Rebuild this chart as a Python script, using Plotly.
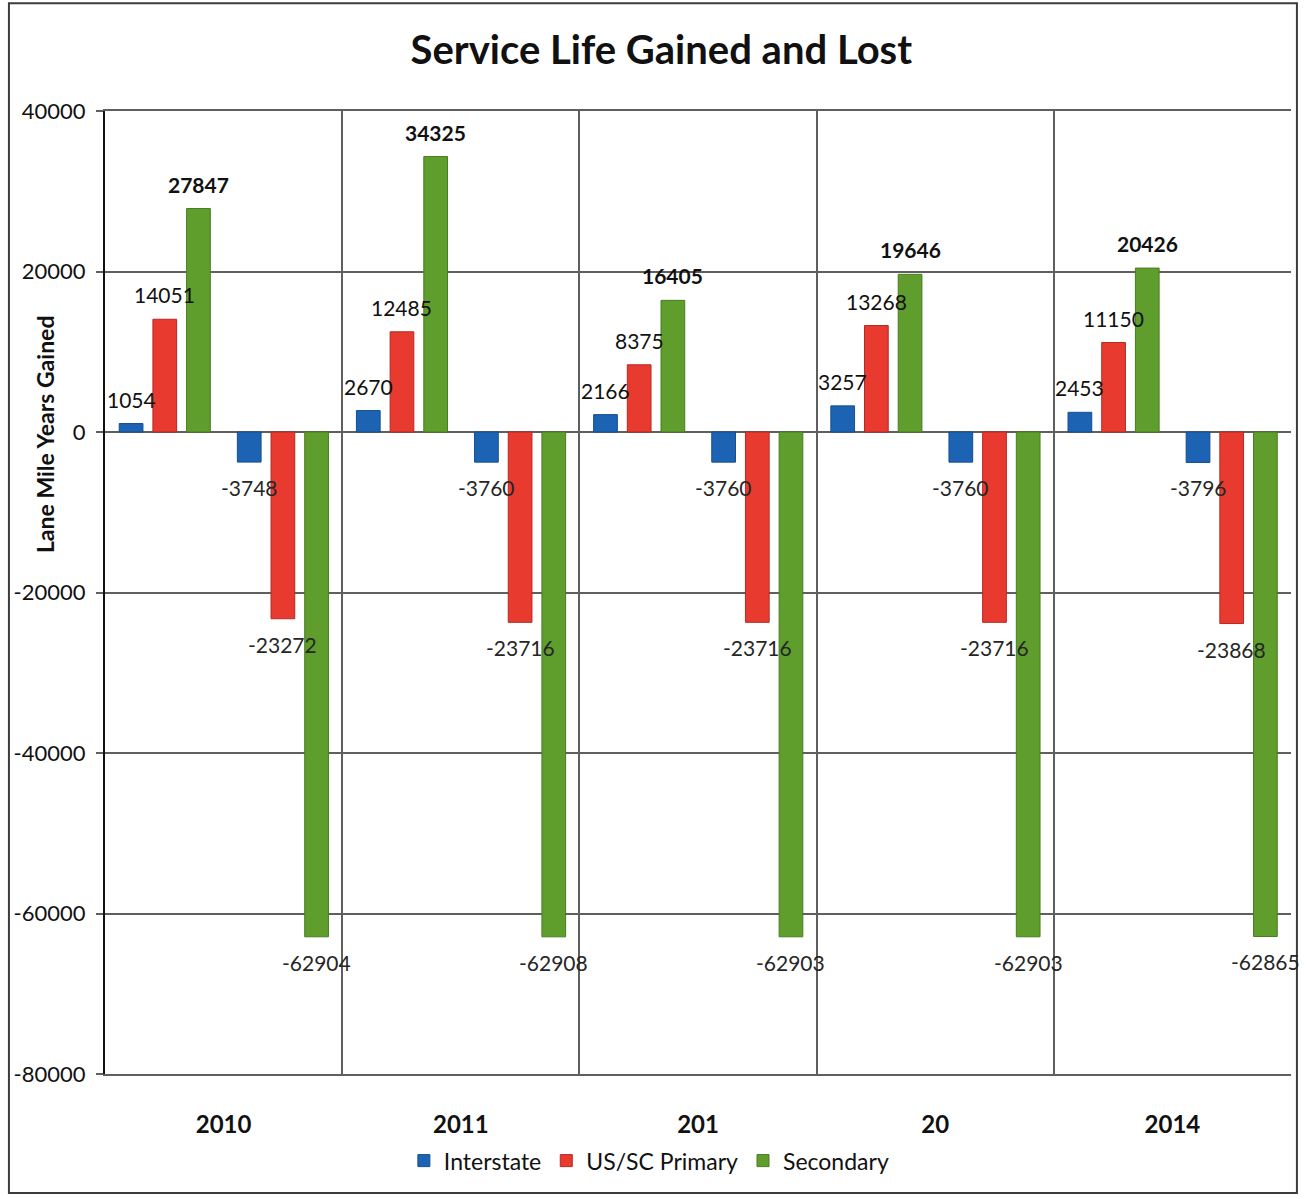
import plotly.graph_objects as go

# Category labels along the x axis
years = ["2010", "2011", "201", "20", "2014"]

# Lane mile years gained (positive) per road system
interstate_gained = [1054, 2670, 2166, 3257, 2453]
primary_gained = [14051, 12485, 8375, 13268, 11150]
secondary_gained = [27847, 34325, 16405, 19646, 20426]

# Lane mile years lost (negative) per road system
interstate_lost = [-3748, -3760, -3760, -3760, -3796]
primary_lost = [-23272, -23716, -23716, -23716, -23868]
secondary_lost = [-62904, -62908, -62903, -62903, -62865]

# y-axis ticks
y_ticks = [40000, 20000, 0, -20000, -40000, -60000, -80000]
y_tick_text = [str(v) for v in y_ticks]

FONT = "Lato"
BLUE, BLUE_EDGE = "#1c63b4", "#154e8f"
RED, RED_EDGE = "#e83a2f", "#b52a22"
GREEN, GREEN_EDGE = "#5f9d2c", "#497c21"

BAR_W = 0.10
series = [
    # name, values, fill, edge, offset inside category, legend, label bold
    ("Interstate", interstate_gained, BLUE, BLUE_EDGE, -0.440, True, False),
    ("US/SC Primary", primary_gained, RED, RED_EDGE, -0.298, True, False),
    ("Secondary", secondary_gained, GREEN, GREEN_EDGE, -0.156, True, True),
    ("Interstate", interstate_lost, BLUE, BLUE_EDGE, 0.058, False, False),
    ("US/SC Primary", primary_lost, RED, RED_EDGE, 0.200, False, False),
    ("Secondary", secondary_lost, GREEN, GREEN_EDGE, 0.342, False, False),
]

fig = go.Figure()
annotations = []
for name, vals, fill, edge, off, show, bold in series:
    fig.add_trace(go.Bar(
        x=years, y=vals, name=name, showlegend=show,
        legendgroup=name,
        offset=off, width=BAR_W,
        marker=dict(color=fill, line=dict(color=edge, width=1)),
    ))
    # value labels sit a little way beyond the end of each bar
    for i, v in enumerate(vals):
        pos = v >= 0
        annotations.append(dict(
            x=i + off + BAR_W / 2, y=v, xref="x", yref="y",
            text=f"<b>{v}</b>" if bold else str(v),
            showarrow=False,
            yanchor="bottom" if pos else "top",
            yshift=10 if pos else -11,
            font=dict(family=FONT, size=21,
                      color="#111111" if pos else "#262626"),
        ))

# y-axis title placed beside the upper part of the axis
annotations.append(dict(
    text="<b>Lane Mile Years Gained</b>", textangle=-90,
    xref="paper", yref="paper", x=-0.051, y=0.664,
    xanchor="center", yanchor="middle", showarrow=False,
    font=dict(family=FONT, size=23, color="#111111"),
))

grid = "#5f5f5f"
fig.update_layout(
    width=1307, height=1199,
    margin=dict(l=105, r=16, t=111, b=125),
    paper_bgcolor="white", plot_bgcolor="white",
    barmode="overlay",
    title=dict(
        text="<b>Service Life Gained and Lost</b>",
        x=0.506, xref="container", xanchor="center",
        y=0.958, yref="container", yanchor="middle",
        font=dict(family=FONT, size=40, color="#111111"),
    ),
    font=dict(family=FONT, color="#111111"),
    xaxis=dict(
        type="category", tickson="boundaries", range=[-0.5, 4.5],
        showgrid=True, gridcolor=grid, gridwidth=1.6,
        ticks="", ticklabelstandoff=28,
        tickfont=dict(family=FONT, size=24, color="#111111", weight="bold"),
        showline=True, linecolor=grid, linewidth=1.6, mirror=True,
    ),
    yaxis=dict(
        range=[-80000, 40000],
        tickmode="array", tickvals=y_ticks, ticktext=y_tick_text,
        showgrid=True, gridcolor=grid, gridwidth=1.6,
        zeroline=True, zerolinecolor=grid, zerolinewidth=1.6,
        showline=True, linecolor="#111111", linewidth=2,
        ticks="outside", ticklen=7, tickcolor=grid, tickwidth=1.5,
        ticklabelstandoff=6,
        tickfont=dict(family=FONT, size=22, color="#111111"),
    ),
    legend=dict(
        orientation="h", x=0.459, xanchor="center",
        y=-0.09, yanchor="middle",
        font=dict(family=FONT, size=23, color="#111111"),
        itemwidth=30, traceorder="normal",
    ),
    annotations=annotations,
    shapes=[dict(
        type="rect", xref="paper", yref="paper",
        x0=-0.081, x1=1.005, y0=-0.1236, y1=1.112,
        line=dict(color="#3c3c3c", width=2), fillcolor="rgba(0,0,0,0)",
        layer="below",
    )],
)

fig.write_html("out.html")
